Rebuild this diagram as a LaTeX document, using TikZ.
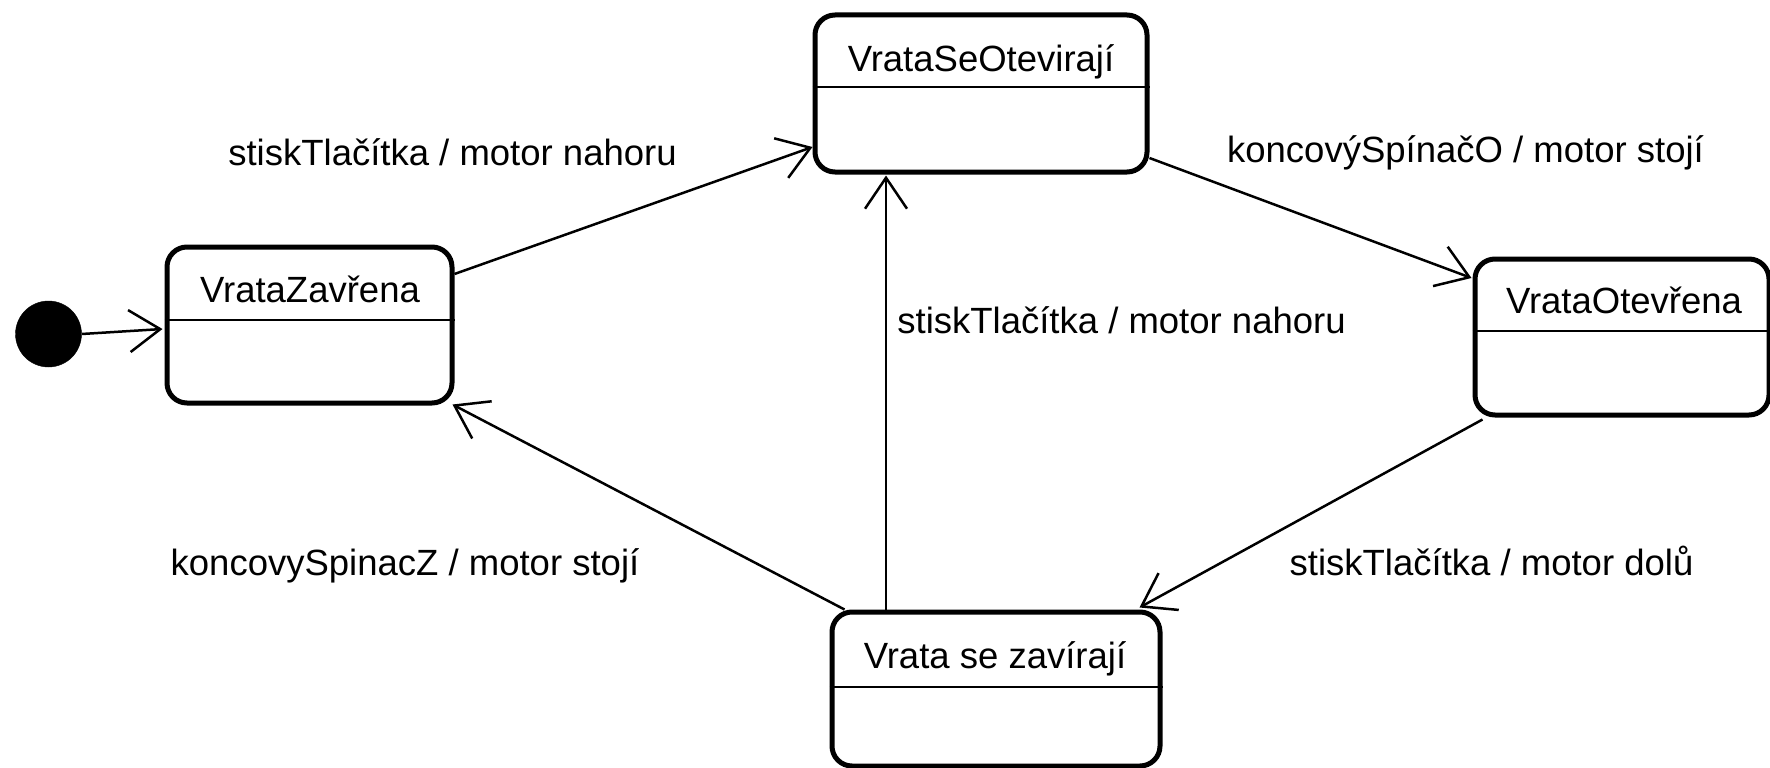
\documentclass[tikz,border=0pt]{standalone}
\usepackage{fontspec}
\setmainfont{Liberation Sans}
\usetikzlibrary{arrows.meta}

\tikzset{
  statebox/.style={draw, line width=5pt, rounded corners=20pt, fill=white, inner sep=0pt},
  divider/.style={line width=2.4pt},
  title/.style={anchor=base, inner sep=0pt, font=\fontsize{36.5pt}{44pt}\selectfont},
  trlabel/.style={anchor=base, inner sep=0pt, font=\fontsize{36.5pt}{44pt}\selectfont},
  trans/.style={line width=2.5pt, -{Straight Barb[length=31pt, width=42pt, line width=2.5pt]}},
  initial/.style={circle, fill=black, draw=black, minimum size=66pt, inner sep=0pt}
}

\begin{document}
\begin{tikzpicture}[x=1pt, y=-1pt]
  \useasboundingbox (0,0) rectangle (1770,768);

  % states
  \node[statebox, minimum width=285pt, minimum height=156pt] (zav)  at (309.5,325) {};
  \node[statebox, minimum width=332pt, minimum height=157pt] (sot)  at (981,93.5) {};
  \node[statebox, minimum width=294pt, minimum height=156pt] (otv)  at (1622,337) {};
  \node[statebox, minimum width=328pt, minimum height=154pt] (szav) at (996,689) {};

  % compartment dividers
  \draw[divider] (zav.west |- 0,320) -- (zav.east |- 0,320);
  \draw[divider] (sot.west |- 0,87) -- (sot.east |- 0,87);
  \draw[divider] (otv.west |- 0,331) -- (otv.east |- 0,331);
  \draw[divider] (szav.west |- 0,687) -- (szav.east |- 0,687);

  % state names
  \node[title] (zavT)  at (310,302) {VrataZavřena};
  \node[title] (sotT)  at (981,72) {VrataSeOtevirají};
  \node[title] (otvT)  at (1624,313) {VrataOtevřena};
  \node[title] (szavT) at (995,668) {Vrata se zavírají};

  % initial pseudo-state
  \node[initial] (init) at (48.5,334) {};

  % transitions
  \draw[trans] (init.east) -- ([xshift=-2pt, yshift=-4pt]zav.west);
  \draw[trans] ([yshift=51pt]zav.east) -- ([yshift=-53.5pt]sot.west);
  \draw[trans] ([yshift=-64.5pt]sot.east) -- ([xshift=-1pt, yshift=59pt]otv.west);
  \draw[trans] ([xshift=10pt, yshift=-2pt]otv.south west) -- ([xshift=-23pt, yshift=2pt]szav.north east);
  \draw[trans] ([xshift=-110pt]szav.north) -- ([xshift=-95pt, yshift=-1pt]sot.south);
  \draw[trans] ([xshift=15pt]szav.north west) -- ([xshift=-2pt, yshift=1pt]zav.south east);

  % transition labels
  \node[trlabel] (l1) at (452.5,165) {stiskTlačítka / motor nahoru};
  \node[trlabel] (l2) at (1465.5,162) {koncovýSpínačO / motor stojí};
  \node[trlabel] (l3) at (1121.5,333) {stiskTlačítka / motor nahoru};
  \node[trlabel] (l4) at (405,575) {koncovySpinacZ / motor stojí};
  \node[trlabel] (l5) at (1491.5,575) {stiskTlačítka / motor dolů};
\end{tikzpicture}
\end{document}
